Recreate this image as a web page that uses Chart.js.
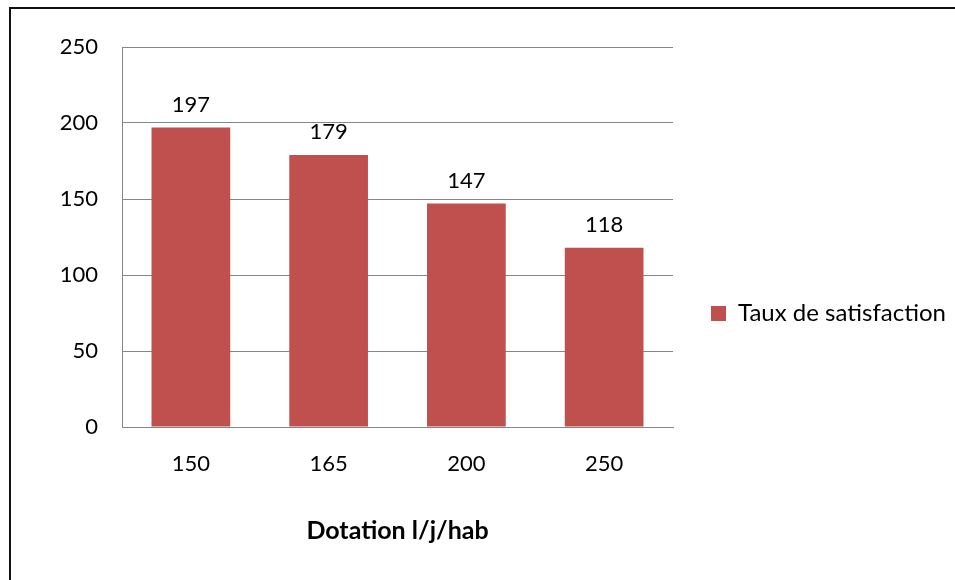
<!DOCTYPE html>
<html>
<head>
<meta charset="utf-8">
<script src="https://cdn.jsdelivr.net/npm/chart.js@4/dist/chart.umd.min.js"></script>
<style>
  html, body { margin: 0; padding: 0; background: #fff; }
  #wrap { width: 955px; height: 580px; position: relative; }
</style>
</head>
<body>
<div id="wrap"><canvas id="c"></canvas></div>
<script>
// Dotation (l/j/hab) and the matching satisfaction values
const categories = ['150', '165', '200', '250'];
const satisfaction = [197, 179, 147, 118];
const seriesName = 'Taux de satisfaction';
const axisTitle = 'Dotation l/j/hab';
const yMin = 0, yMax = 250, yStep = 50;

const FONT = 'Lato, "Open Sans", sans-serif';
const BAR = '#C0504D';
const GRID = '#868686';
const LEGEND_WIDTH = 282;

// Thin frame around the whole chart
const framePlugin = {
  id: 'frame',
  beforeDraw(chart) {
    const ctx = chart.ctx;
    ctx.save();
    ctx.fillStyle = '#fff';
    ctx.fillRect(0, 0, chart.width, chart.height);
    ctx.strokeStyle = '#111';
    ctx.lineWidth = 2;
    ctx.strokeRect(10, 8, chart.width + 10, chart.height + 10);
    ctx.restore();
  }
};

// Give the side legend a fixed width so the plot keeps its proportions
const legendWidthPlugin = {
  id: 'legendWidth',
  afterInit(chart) {
    const legend = chart.legend;
    if (!legend) return;
    const fit = legend.fit;
    legend.fit = function () {
      fit.call(this);
      this.width = LEGEND_WIDTH;
    };
  }
};

// Value printed above each bar
const valueLabels = {
  id: 'valueLabels',
  afterDatasetsDraw(chart) {
    const ctx = chart.ctx;
    const meta = chart.getDatasetMeta(0);
    const data = chart.data.datasets[0].data;
    ctx.save();
    ctx.font = '22px ' + FONT;
    ctx.fillStyle = '#000';
    ctx.textAlign = 'center';
    ctx.textBaseline = 'alphabetic';
    meta.data.forEach((bar, i) => {
      ctx.fillText(String(data[i]), bar.x, bar.y - 16);
    });
    ctx.restore();
  }
};

new Chart(document.getElementById('c'), {
  type: 'bar',
  data: {
    labels: categories,
    datasets: [{
      label: seriesName,
      data: satisfaction,
      backgroundColor: BAR,
      borderWidth: 0,
      categoryPercentage: 1,
      barPercentage: 1 / 1.75
    }]
  },
  options: {
    responsive: true,
    maintainAspectRatio: false,
    animation: false,
    devicePixelRatio: 1,
    layout: { padding: { top: 47, left: 0, right: 0, bottom: 0 } },
    plugins: {
      tooltip: { enabled: false },
      legend: {
        position: 'right',
        labels: {
          boxWidth: 15,
          boxHeight: 15,
          padding: 38,
          color: '#000',
          font: { family: FONT, size: 24 }
        }
      }
    },
    scales: {
      x: {
        grid: { display: false },
        border: { display: true, color: GRID },
        ticks: {
          color: '#000',
          padding: 16,
          font: { family: FONT, size: 22 }
        },
        title: {
          display: true,
          text: axisTitle,
          color: '#000',
          font: { family: FONT, size: 25, weight: 'bold' },
          padding: { top: 0, bottom: 34 }
        },
        afterFit(scale) { scale.height = 153; }
      },
      y: {
        min: yMin,
        max: yMax,
        grid: { color: GRID, drawTicks: false },
        border: { display: true, color: GRID },
        ticks: {
          stepSize: yStep,
          color: '#000',
          padding: 24,
          font: { family: FONT, size: 22 }
        },
        afterFit(scale) { scale.width = 122; }
      }
    }
  },
  plugins: [framePlugin, legendWidthPlugin, valueLabels]
});
</script>
</body>
</html>
